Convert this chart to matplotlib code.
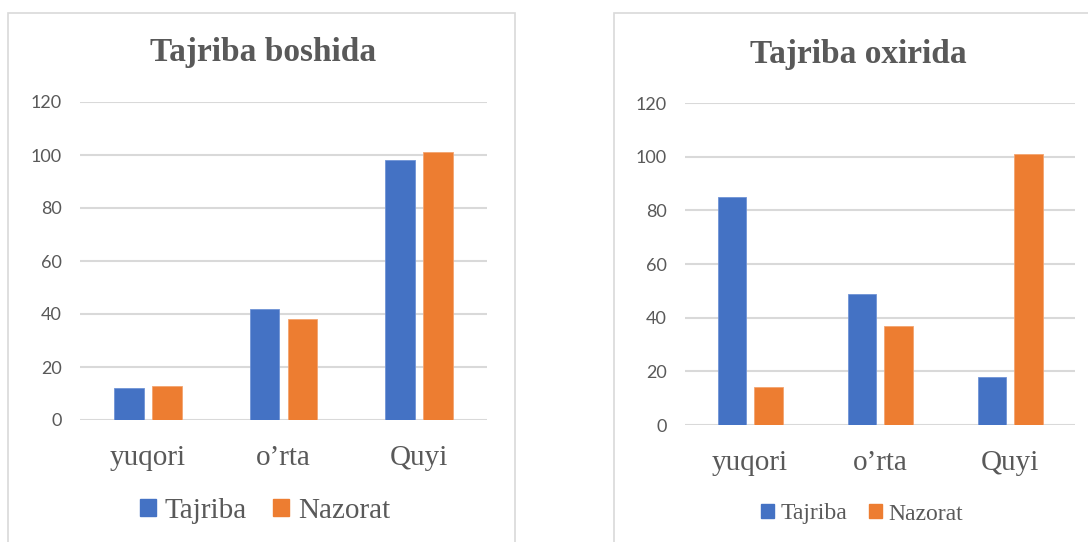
import matplotlib.pyplot as plt
from matplotlib.patches import Rectangle, Patch

# ma'lumotlar
categories = ['yuqori', 'o\u2019rta', 'Quyi']
series_names = ['Tajriba', 'Nazorat']
boshida_tajriba = [12, 42, 98]
boshida_nazorat = [13, 38, 101]
oxirida_tajriba = [85, 49, 18]
oxirida_nazorat = [14, 37, 101]
yticks = [0, 20, 40, 60, 80, 100, 120]

BLUE = '#4472C4'
ORANGE = '#ED7D31'
GRID = '#D9D9D9'
TXT = '#595959'
W, H = 1088, 542

fig = plt.figure(figsize=(W / 100, H / 100), dpi=100)

def px_box(x0, x1, ytop, ybot):
    return [x0 / W, 1 - ybot / H, (x1 - x0) / W, (ybot - ytop) / H]

def panel(box, ax_box, title, title_xy, tajriba, nazorat, leg_xy, leg_size):
    # tashqi ramka
    fig.patches.append(Rectangle((box[0] / W, 1 - box[3] / H), (box[1] - box[0]) / W,
                                 (box[3] - box[2]) / H, transform=fig.transFigure,
                                 fill=False, edgecolor=GRID, linewidth=1.2))
    ax = fig.add_axes(px_box(*ax_box))
    x = range(len(categories))
    bw = 0.22
    off = 0.14
    ax.bar([i - off for i in x], tajriba, bw, color=BLUE, edgecolor='#6f93d6', linewidth=0.6, zorder=3)
    ax.bar([i + off for i in x], nazorat, bw, color=ORANGE, edgecolor='#f3a470', linewidth=0.6, zorder=3)
    ax.set_xlim(-0.5, 2.5)
    ax.set_ylim(0, 120)
    ax.set_yticks(yticks)
    ax.set_yticklabels([str(v) for v in yticks], family='Lato', fontsize=13, color=TXT)
    ax.set_xticks(list(x))
    ax.set_xticklabels(categories, family='Liberation Serif', fontsize=21, color=TXT)
    ax.tick_params(axis='y', length=0, pad=13)
    ax.tick_params(axis='x', length=0, pad=18)
    ax.grid(axis='y', color=GRID, linewidth=1.5, zorder=0)
    for s in ax.spines.values():
        s.set_visible(False)
    fig.text(title_xy[0] / W, 1 - title_xy[1] / H, title, family='Liberation Serif',
             fontweight='bold', fontsize=24, color=TXT, ha='center', va='center')
    handles = [Patch(color=BLUE), Patch(color=ORANGE)]
    fig.legend(handles, series_names, loc='center', ncol=2, frameon=False,
               bbox_to_anchor=(leg_xy[0] / W, 1 - leg_xy[1] / H),
               prop={'family': 'Liberation Serif', 'size': leg_size},
               handlelength=0.55, handleheight=0.55, handletextpad=0.3,
               columnspacing=0.9, labelcolor=TXT)
    return ax

panel((8, 515, 13, 545), (80, 487, 102, 420), 'Tajriba boshida', (263, 52),
      boshida_tajriba, boshida_nazorat, (265, 511), 21)
panel((614, 1095, 13, 545), (685, 1075, 103, 425), 'Tajriba oxirida', (858, 54),
      oxirida_tajriba, oxirida_nazorat, (862, 514), 17)

fig.savefig('out.png', dpi=100)
